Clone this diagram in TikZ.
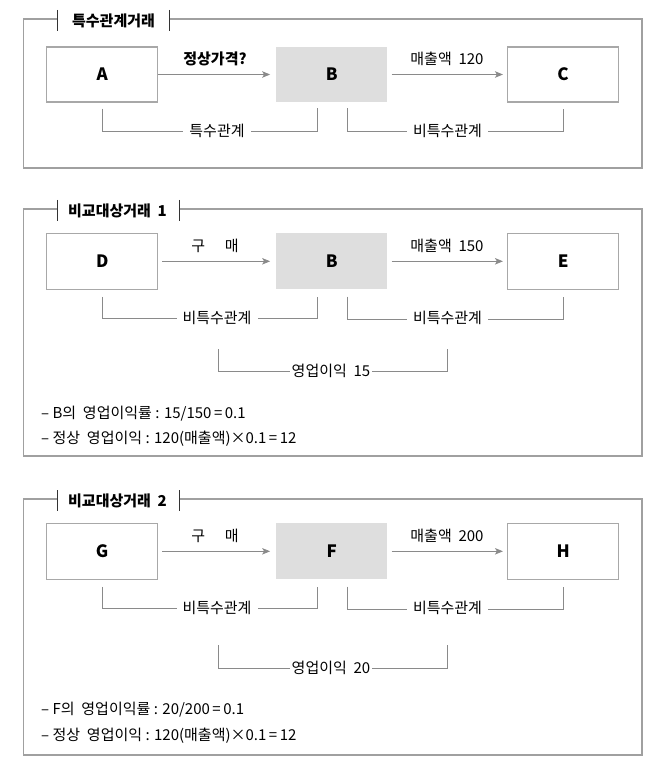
\documentclass[tikz,border=0pt]{standalone}
\usepackage{fontspec}
\setmainfont{Noto Sans CJK KR}
\usepackage{tikz}
\usetikzlibrary{calc, arrows.meta}
\definecolor{framegray}{HTML}{A0A0A0}
\definecolor{boxgray}{HTML}{A8A8A8}
\definecolor{linegray}{HTML}{8A8A8A}
\definecolor{fillgray}{HTML}{DEDEDE}
\tikzset{>={Stealth[length=8pt,width=6.5pt,inset=2pt]}}
\tikzset{
  frm/.style = {draw=framegray, line width=1.8pt},
  tabline/.style = {draw=black!80, line width=0.8pt},
  ttl/.style = {font=\fontsize{15}{17}\selectfont\bfseries, inner sep=0pt},
  box/.style = {draw=boxgray, line width=1.3pt, minimum width=111pt, minimum height=55pt, font=\fontsize{17}{19}\selectfont\bfseries},
  midbox/.style = {fill=fillgray, minimum width=111pt, minimum height=55pt, font=\fontsize{17}{19}\selectfont\bfseries},
  link/.style = {draw=linegray, line width=0.8pt},
  lbl/.style = {font=\fontsize{15}{17}\selectfont, inner sep=0pt},
  rel/.style = {font=\fontsize{15}{17}\selectfont, fill=white, inner xsep=6pt, inner ysep=1pt},
  note/.style = {font=\fontsize{15}{17}\selectfont, anchor=west, inner sep=0pt}
}
\newcommand{\wsp}{\hspace{0.45em}}

\begin{document}
\begin{tikzpicture}[x=1pt, y=-1pt]
\useasboundingbox (0,0) rectangle (656,767);

\begin{scope}
\draw[frm] (57.7,19.3) -- (23.5,19.3) -- (23.5,168.3) -- (642,168.3) -- (642,19.3) -- (169,19.3);
\draw[tabline] (57.7,10) -- (57.7,31);
\draw[tabline] (169,10) -- (169,31);
\node[ttl] (ttl1) at (113.5,20.7) {특수관계거래};
\node[box] (A) at (102.2,74.5) {A};
\node[midbox] (B) at (331.8,74.5) {B};
\node[box] (C) at (563.1,74.5) {C};
\draw[link, ->, shorten >=6pt] (A) -- (B);
\draw[link, ->, shorten <=4pt, shorten >=4pt] (B) -- (C);
\node[lbl] (pr1) at (215,59) {\bfseries 정상가격?};
\node[lbl] (sa1) at (447,59) {매출액\wsp 120};
\draw[link] ($(A.south)+(0,6)$) |- ($(B.south)+(-14.5,29)$) -- ($(B.south)+(-14.5,6)$);
\draw[link] ($(B.south)+(15.8,6)$) |- ($(C.south)+(0,29)$) -- ($(C.south)+(0,6)$);
\node[rel] (r11) at (217,131) {특수관계};
\node[rel] (r12) at (447.5,131) {비특수관계};
\end{scope}

\begin{scope}
\draw[frm] (57.7,209.3) -- (23.5,209.3) -- (23.5,456) -- (642,456) -- (642,209.3) -- (179,209.3);
\draw[tabline] (57.7,200) -- (57.7,221);
\draw[tabline] (179,200) -- (179,221);
\node[ttl] (ttl2) at (117.5,210.7) {비교대상거래\wsp 1};
\node[box, minimum height=56pt] (D) at (102.2,261.3) {D};
\node[midbox, minimum height=56pt] (B2) at (331.8,261.3) {B};
\node[box, minimum height=56pt] (E) at (563.1,261.3) {E};
\draw[link, ->, shorten <=4pt, shorten >=6pt] (D) -- (B2);
\draw[link, ->, shorten <=4pt, shorten >=4pt] (B2) -- (E);
\node[lbl] (pu2) at (215,246) {구\hspace{1.3em}매};
\node[lbl] (sa2) at (447,246) {매출액\wsp 150};
\draw[link] ($(D.south)+(0,7)$) |- ($(B2.south)+(-14.5,29)$) -- ($(B2.south)+(-14.5,7)$);
\draw[link] ($(B2.south)+(15.8,7)$) |- ($(E.south)+(0,29)$) -- ($(E.south)+(0,7)$);
\node[rel] (r21) at (217,318) {비특수관계};
\node[rel] (r22) at (447.5,318) {비특수관계};
\draw[link] (218,349) |- (447,371) -- (447,349);
\node[rel, inner xsep=1.5pt] (op2) at (331,371) {영업이익\wsp 15};
\node[note] (n21) at (41,414) {– B의\wsp 영업이익률 : 15/150\,=\,0.1};
\node[note] (n22) at (41,439) {– 정상\wsp 영업이익 : 120(매출액)×0.1\,=\,12};
\end{scope}

\begin{scope}
\draw[frm] (57.7,499.3) -- (23.5,499.3) -- (23.5,755) -- (642,755) -- (642,499.3) -- (179,499.3);
\draw[tabline] (57.7,490) -- (57.7,511);
\draw[tabline] (179,490) -- (179,511);
\node[ttl] (ttl3) at (117.5,500.7) {비교대상거래\wsp 2};
\node[box, minimum height=56pt] (G) at (102.2,551.3) {G};
\node[midbox, minimum height=56pt] (F) at (331.8,551.3) {F};
\node[box, minimum height=56pt] (H) at (563.1,551.3) {H};
\draw[link, ->, shorten <=4pt, shorten >=6pt] (G) -- (F);
\draw[link, ->, shorten <=4pt, shorten >=4pt] (F) -- (H);
\node[lbl] (pu3) at (215,536) {구\hspace{1.3em}매};
\node[lbl] (sa3) at (447,536) {매출액\wsp 200};
\draw[link] ($(G.south)+(0,7)$) |- ($(F.south)+(-14.5,29)$) -- ($(F.south)+(-14.5,7)$);
\draw[link] ($(F.south)+(15.8,7)$) |- ($(H.south)+(0,29)$) -- ($(H.south)+(0,7)$);
\node[rel] (r31) at (217,608) {비특수관계};
\node[rel] (r32) at (447.5,608) {비특수관계};
\draw[link] (218,645) |- (447,668) -- (447,645);
\node[rel, inner xsep=1.5pt] (op3) at (331,668) {영업이익\wsp 20};
\node[note] (n31) at (41,710) {– F의\wsp 영업이익률 : 20/200\,=\,0.1};
\node[note] (n32) at (41,736) {– 정상\wsp 영업이익 : 120(매출액)×0.1\,=\,12};
\end{scope}

\end{tikzpicture}
\end{document}
